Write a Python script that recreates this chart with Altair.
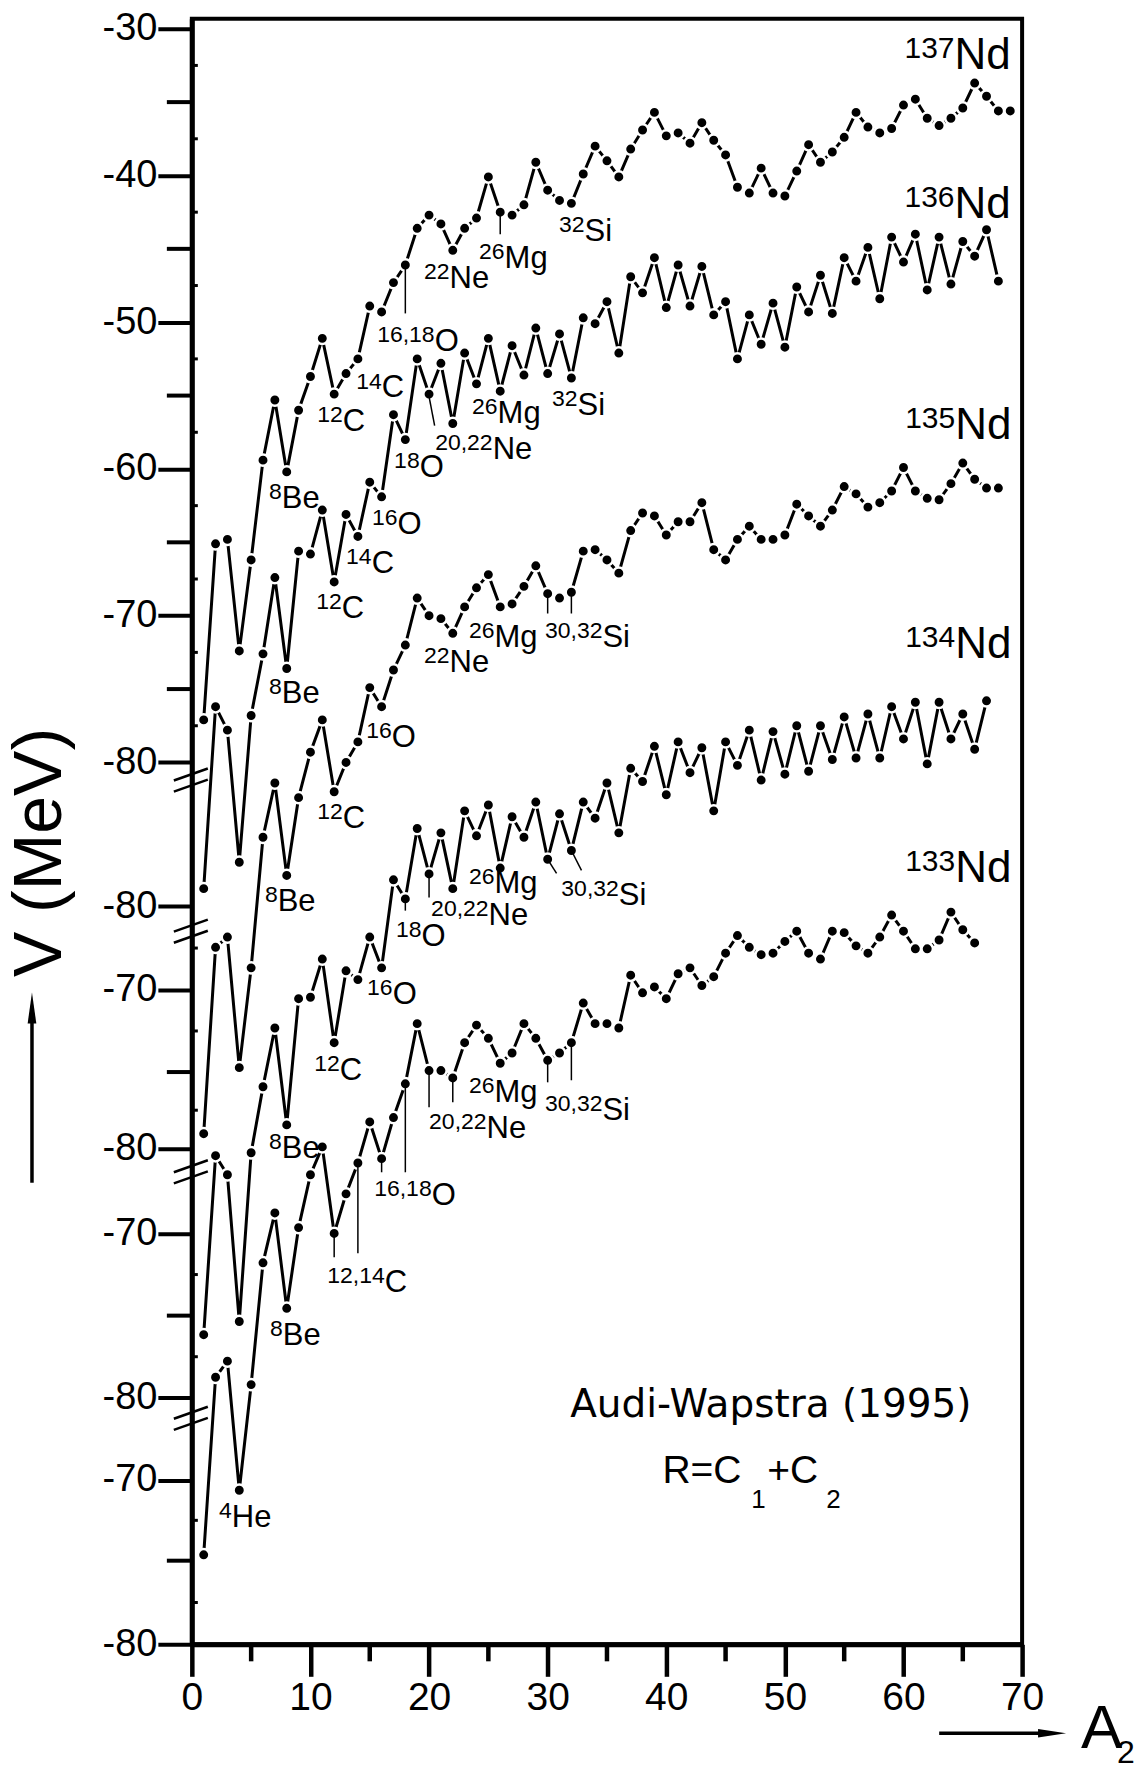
import altair as alt
import pandas as pd

FONT = "Liberation Sans"

# ---- data: V (MeV, read on the stacked left scale) for A2 = 1, 2, 3, ...
V_137 = [-77.1, -65.1, -64.8, -72.4, -66.2, -59.4, -55.3, -60.2, -56.0, -53.7,
         -51.1, -54.9, -53.5, -52.5, -48.9, -49.3, -47.3, -46.1, -43.6, -42.7,
         -43.3, -45.1, -43.6, -42.9, -40.1, -42.5, -42.7, -42.0, -39.1, -41.0,
         -41.7, -41.9, -39.9, -38.0, -39.0, -40.1, -38.2, -36.9, -35.7, -37.3,
         -37.1, -37.8, -36.4, -37.6, -38.6, -40.8, -41.2, -39.5, -41.2, -41.4,
         -39.7, -37.9, -39.1, -38.4, -37.4, -35.7, -36.7, -37.1, -36.8, -35.2,
         -34.8, -36.1, -36.6, -36.1, -35.4, -33.7, -34.6, -35.6, -35.6]
V_136 = [-88.6, -76.2, -77.8, -86.8, -76.8, -72.6, -67.4, -73.6, -65.6, -65.8,
         -62.8, -67.7, -63.1, -64.6, -60.9, -61.9, -56.3, -58.0, -52.5, -54.9,
         -52.8, -56.9, -52.1, -54.2, -51.1, -54.7, -51.6, -53.6, -50.4, -53.5,
         -50.8, -53.8, -49.7, -50.1, -48.6, -52.1, -46.9, -48.0, -45.6, -49.0,
         -46.1, -48.9, -46.2, -49.5, -48.6, -52.5, -49.5, -51.5, -48.7, -51.7,
         -47.6, -49.3, -46.8, -49.4, -45.6, -47.2, -44.9, -48.4, -44.2, -45.9,
         -44.0, -47.8, -44.2, -47.4, -44.5, -45.5, -43.7, -47.2]
V_135 = [-105.3, -92.6, -91.9, -100.8, -94.0, -85.1, -81.4, -87.7, -82.4, -79.3,
         -77.1, -82.0, -80.0, -78.6, -74.9, -76.2, -73.7, -72.0, -68.8, -70.0,
         -70.2, -71.2, -69.4, -68.1, -67.2, -69.4, -69.2, -68.0, -66.6, -68.5,
         -68.8, -68.4, -65.6, -65.5, -66.2, -67.1, -64.2, -63.0, -63.2, -64.5,
         -63.6, -63.6, -62.3, -65.5, -66.2, -64.8, -63.9, -64.8, -64.8, -64.5,
         -62.4, -63.2, -63.9, -62.8, -61.2, -61.7, -62.6, -62.3, -61.5, -59.9,
         -61.5, -62.0, -62.1, -61.0, -59.6, -60.7, -61.3, -61.3]
V_134 = [-119.0, -106.8, -108.1, -118.1, -106.6, -102.1, -98.1, -104.7, -96.1, -96.0,
         -93.4, -99.1, -94.2, -94.8, -91.9, -94.0, -88.0, -89.3, -84.5, -87.6,
         -84.8, -88.6, -83.3, -85.0, -82.9, -87.2, -83.7, -85.1, -82.7, -86.6,
         -83.5, -86.0, -82.7, -83.8, -81.4, -84.8, -80.4, -81.3, -78.9, -82.2,
         -78.6, -80.7, -79.0, -83.3, -78.6, -80.2, -77.8, -81.2, -77.9, -80.8,
         -77.5, -80.6, -77.5, -79.8, -76.9, -79.7, -76.7, -79.7, -76.2, -78.4,
         -75.9, -80.1, -75.9, -78.4, -76.7, -79.1, -75.8]
V_133 = [-134.0, -121.9, -120.8, -129.6, -122.4, -114.1, -110.7, -117.2, -111.7, -108.1,
         -106.2, -112.1, -109.4, -107.3, -104.5, -107.0, -104.2, -101.9, -97.8, -101.0,
         -101.0, -101.5, -99.1, -97.9, -98.8, -100.5, -99.8, -97.8, -98.8, -100.3,
         -99.8, -99.1, -96.4, -97.8, -97.8, -98.1, -94.5, -95.7, -95.3, -96.1,
         -94.4, -94.0, -95.2, -94.6, -93.0, -91.8, -92.6, -93.1, -93.0, -92.2,
         -91.5, -93.0, -93.4, -91.5, -91.6, -92.5, -93.0, -91.9, -90.4, -91.5,
         -92.7, -92.7, -92.1, -90.2, -91.4, -92.3]
SERIES = ["137Nd", "136Nd", "135Nd", "134Nd", "133Nd"]
SERIES_V = [V_137, V_136, V_135, V_134, V_133]

# series name labels (superscript mass number + "Nd")
ND_SUP = ["137", "136", "135", "134", "133"]
ND_A = [64.3, 64.3, 64.36, 64.36, 64.36]
ND_V = [-32.72, -42.87, -57.93, -72.91, -88.17]

# nucleus annotations
ANN_SUP = ["8", "12", "14", "16,18", "22", "26", "32",
           "8", "12", "14", "16", "18", "20,22", "26", "32",
           "8", "12", "16", "22", "26", "30,32",
           "8", "12", "16", "18", "20,22", "26", "30,32",
           "4", "8", "12,14", "16,18", "20,22", "26", "30,32"]
ANN_MAIN = ["Be", "C", "C", "O", "Ne", "Mg", "Si",
            "Be", "C", "C", "O", "O", "Ne", "Mg", "Si",
            "Be", "C", "O", "Ne", "Mg", "Si",
            "Be", "C", "O", "O", "Ne", "Mg", "Si",
            "He", "Be", "C", "O", "Ne", "Mg", "Si"]
ANN_A = [7.58, 12.72, 16.01, 20.47, 21.73, 26.37, 33.11,
         7.58, 12.64, 15.16, 17.35, 19.21, 25.36, 25.78, 32.52,
         7.24, 12.72, 16.85, 21.73, 25.52, 34.62,
         7.58, 12.47, 16.93, 19.37, 25.02, 25.52, 36.0,
         3.37, 7.67, 16.26, 20.22, 24.85, 25.52, 34.62]
ANN_V = [-62.63, -57.38, -55.13, -51.93, -47.64, -46.28, -44.44,
         -75.98, -70.19, -67.12, -64.40, -60.58, -59.29, -56.90, -56.29,
         -90.15, -84.49, -78.98, -73.87, -72.16, -72.16,
         -106.97, -101.66, -96.48, -92.53, -91.10, -88.92, -89.74,
         -132.11, -119.71, -116.10, -110.17, -105.61, -103.16, -104.38]

# leader lines (A2, V) -> (A2, V)
LEAD_A1 = [18, 26, 19.96, 30, 32, 18, 20, 30, 32, 12, 14, 16, 18, 20, 22, 30, 32]
LEAD_V1 = [-46.1, -42.5, -54.9, -68.5, -68.4, -89.3, -87.6, -86.6, -86.0,
           -112.1, -107.3, -107.0, -101.9, -101.0, -101.5, -100.3, -99.1]
LEAD_A2 = [18, 26, 20.47, 30, 32, 18, 20, 30.75, 32.85, 12, 14, 16, 18, 20, 22, 30, 32]
LEAD_V2 = [-49.4, -44.0, -57.04, -69.85, -69.85, -90.1, -89.2, -87.56, -87.35,
           -113.72, -113.44, -107.93, -107.93, -103.5, -103.16, -101.8, -101.66]

# axis ticks
Y_LABEL_POS = [-30, -40, -50, -60, -70, -80, -89.8, -95.5, -106.3, -112.1, -123.3, -128.9, -140.1]
Y_LABEL_TXT = ["-30", "-40", "-50", "-60", "-70", "-80", "-80", "-70", "-80", "-70", "-80", "-70", "-80"]
Y_LONG_POS = [-35, -45, -55, -65, -75, -101.1, -117.7, -134.4]
Y_SMALL_POS = [-32.5, -37.5, -42.5, -47.5, -52.5, -57.5, -62.5, -67.5, -72.5, -77.5,
               -92.65, -98.3, -103.7, -114.9, -120.5, -131.65, -137.25]
BREAK_V = [-81.2, -91.5, -107.9, -124.7]
X_MAJOR = [0, 10, 20, 30, 40, 50, 60, 70]
X_MINOR = [5, 15, 25, 35, 45, 55, 65]

W, H = 831, 1627
XS = alt.Scale(domain=[0, 70], nice=False)
YS = alt.Scale(domain=[-140.1, -29.32], nice=False, zero=False)

rows = []
for name, vals in zip(SERIES, SERIES_V):
    for i, v in enumerate(vals):
        rows.append({"series": name, "A2": i + 1, "V": v})
df = pd.DataFrame(rows)

pos_js = "[" + ",".join(repr(float(v)) for v in Y_LABEL_POS) + "]"
txt_js = "[" + ",".join("'%s'" % t for t in Y_LABEL_TXT) + "]"
label_expr = f"{txt_js}[indexof({pos_js}, datum.value)]"

x_axis = alt.Axis(values=X_MAJOR, tickSize=32, tickWidth=4.5, tickColor="black",
                  domainWidth=5, domainColor="black", labelFontSize=39, labelFont=FONT,
                  labelColor="black", labelPadding=2, labelFlush=False, labelOverlap=False,
                  grid=False, title=None)
y_axis = alt.Axis(values=Y_LABEL_POS, labelExpr=label_expr, tickSize=34, tickWidth=4,
                  tickColor="black", domainWidth=5, domainColor="black", labelFontSize=38,
                  labelFont=FONT, labelColor="black", labelPadding=1, labelFlush=False,
                  labelOverlap=False, grid=False, title="V (MeV)", titleFont=FONT,
                  titleFontSize=68, titleFontWeight="normal", titleColor="black",
                  titleAngle=270, titleX=-151, titleY=834, titleAlign="center",
                  titleBaseline="middle")


def X(field):
    return alt.X(field, scale=XS, axis=x_axis)


def Y(field):
    return alt.Y(field, scale=YS, axis=y_axis)


lines = alt.Chart(df).mark_line(color="black", strokeWidth=3).encode(
    x=X("A2:Q"), y=Y("V:Q"), detail="series:N")
points = alt.Chart(df).mark_point(shape="circle", filled=True, fill="black", stroke="white",
                                  strokeWidth=2.5, size=131, opacity=1, fillOpacity=1,
                                  strokeOpacity=1).encode(
    x=X("A2:Q"), y=Y("V:Q"), detail="series:N")

lead_df = pd.DataFrame({"a1": LEAD_A1, "v1": LEAD_V1, "a2": LEAD_A2, "v2": LEAD_V2})
leaders = alt.Chart(lead_df).mark_rule(color="black", strokeWidth=1.5).encode(
    x=X("a1:Q"), x2="a2:Q", y=Y("v1:Q"), y2="v2:Q")

ann_df = pd.DataFrame({"sup": ANN_SUP, "main": ANN_MAIN, "a": ANN_A, "v": ANN_V})
ann_sup = alt.Chart(ann_df).mark_text(align="right", baseline="alphabetic", fontSize=23,
                                      font=FONT, dy=-9, color="black").encode(
    x=X("a:Q"), y=Y("v:Q"), text="sup:N")
ann_main = alt.Chart(ann_df).mark_text(align="left", baseline="alphabetic", fontSize=31,
                                       font=FONT, color="black").encode(
    x=X("a:Q"), y=Y("v:Q"), text="main:N")

nd_df = pd.DataFrame({"sup": ND_SUP, "a": ND_A, "v": ND_V, "main": ["Nd"] * 5})
nd_sup = alt.Chart(nd_df).mark_text(align="right", baseline="alphabetic", fontSize=30,
                                    font=FONT, dy=-11, color="black").encode(
    x=X("a:Q"), y=Y("v:Q"), text="sup:N")
nd_main = alt.Chart(nd_df).mark_text(align="left", baseline="alphabetic", fontSize=44,
                                     font=FONT, color="black").encode(
    x=X("a:Q"), y=Y("v:Q"), text="main:N")

# note text
NOTE_T = ["Audi-Wapstra (1995)", "R=C", "1", "+C", "2"]
NOTE_A = [48.82, 39.68, 47.17, 48.52, 53.49]
NOTE_V = [-124.62, -129.11, -130.81, -129.11, -130.81]
NOTE_FS = [39, 39, 26, 39, 26]
NOTE_FONT = ["DejaVu Sans", FONT, FONT, FONT, FONT]
NOTE_AL = ["center", "left", "left", "left", "left"]
notes = []
for t, a, v, fs, fo, al in zip(NOTE_T, NOTE_A, NOTE_V, NOTE_FS, NOTE_FONT, NOTE_AL):
    notes.append(alt.Chart(pd.DataFrame({"t": [t], "a": [a], "v": [v]})).mark_text(
        align=al, baseline="alphabetic", fontSize=fs, font=fo, color="black"
    ).encode(x=X("a:Q"), y=Y("v:Q"), text="t:N"))

# extra y ticks
long_ticks = alt.Chart(pd.DataFrame({"v": Y_LONG_POS})).mark_rule(color="black", strokeWidth=4).encode(
    y=Y("v:Q"), x=alt.value(-25), x2=alt.value(0))
small_ticks = alt.Chart(pd.DataFrame({"v": Y_SMALL_POS})).mark_rule(color="black", strokeWidth=3).encode(
    y=Y("v:Q"), x=alt.value(0), x2=alt.value(6))
x_minor = alt.Chart(pd.DataFrame({"a": X_MINOR})).mark_rule(color="black", strokeWidth=4.5).encode(
    x=X("a:Q"), y=alt.value(H), y2=alt.value(H + 17))

# axis breaks (two parallel slanted strokes)
brk_rows = []
for c in BREAK_V:
    for off in (0.38, -0.38):
        brk_rows.append({"vl": c + off - 0.41, "vr": c + off + 0.41})
breaks = alt.Chart(pd.DataFrame(brk_rows)).mark_rule(color="black", strokeWidth=2.5).encode(
    y=Y("vl:Q"), y2="vr:Q", x=alt.value(-18), x2=alt.value(16))

# arrows and A2 title
one = pd.DataFrame({"k": [0]})
up_shaft = alt.Chart(one).mark_rule(color="black", strokeWidth=3.5).encode(
    x=alt.value(-160), y=alt.value(990), y2=alt.value(1165))
up_head = alt.Chart(one).mark_point(
    shape="M0,-1L0.28,1L-0.28,1Z", size=961, filled=True, fill="black", opacity=1).encode(
    x=alt.value(-160), y=alt.value(990))
rt_shaft = alt.Chart(one).mark_rule(color="black", strokeWidth=3.5).encode(
    x=alt.value(748), x2=alt.value(855), y=alt.value(1716))
rt_head = alt.Chart(one).mark_point(
    shape="M1,0L-1,0.3L-1,-0.3Z", size=784, filled=True, fill="black", opacity=1).encode(
    x=alt.value(861), y=alt.value(1716))
a_txt = alt.Chart(pd.DataFrame({"t": ["A"]})).mark_text(
    align="left", baseline="alphabetic", fontSize=62, font=FONT, color="black").encode(
    x=alt.value(890), y=alt.value(1731), text="t:N")
a_sub = alt.Chart(pd.DataFrame({"t": ["2"]})).mark_text(
    align="left", baseline="alphabetic", fontSize=32, font=FONT, color="black").encode(
    x=alt.value(926), y=alt.value(1746), text="t:N")

chart = alt.layer(
    lines, points, leaders, ann_sup, ann_main, nd_sup, nd_main, *notes,
    long_ticks, small_ticks, x_minor, breaks, up_shaft, up_head, rt_shaft, rt_head, a_txt, a_sub,
).properties(
    width=W, height=H,
    autosize=alt.AutoSizeParams(type="none"),
    padding={"left": 184, "top": 10, "right": 117, "bottom": 120},
).configure_view(stroke="black", strokeWidth=4)

chart.save("out.html", embed_options={"renderer": "svg", "actions": False})
